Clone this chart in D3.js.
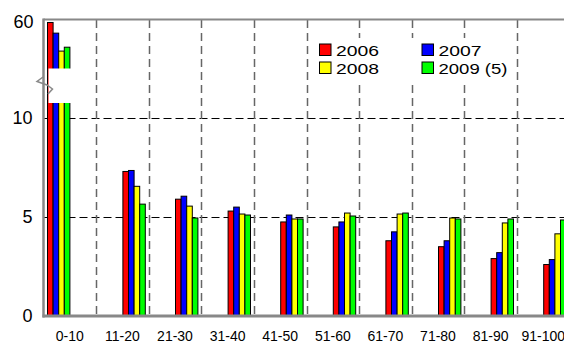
<!DOCTYPE html>
<html>
<head>
<meta charset="utf-8">
<script src="https://cdn.jsdelivr.net/npm/d3@7"></script>
<style>
    body { margin: 0; background: #fff; }
    svg { display: block; font-family: 'Liberation Sans', Arial, sans-serif; }
</style>
</head>
<body>
<svg id="chart"></svg>
<script>
const categories = ['0-10', '11-20', '21-30', '31-40', '41-50', '51-60', '61-70', '71-80', '81-90', '91-100'];
const seriesNames = ['2006', '2007', '2008', '2009 (5)'];
const values2006 = [59.8, 7.3, 5.9, 5.3, 4.75, 4.5, 3.8, 3.5, 2.9, 2.6];
const values2007 = [57.6, 7.35, 6.05, 5.5, 5.1, 4.75, 4.25, 3.8, 3.2, 2.85];
const values2008 = [53.9, 6.55, 5.55, 5.15, 4.9, 5.2, 5.15, 4.95, 4.7, 4.15];
const values2009 = [54.7, 5.65, 4.95, 5.1, 4.9, 5.05, 5.2, 4.9, 4.9, 4.85];
const lowerTicks = [0, 5, 10];
const upperTicks = [60];
const colors = ['#ff0000', '#0000ff', '#ffff00', '#00ff00'];

const allSeries = [values2006, values2007, values2008, values2009];

const width = 564, height = 345;
const plotLeft = 43.5, plotTop = 20, plotBottom = 316;
const bandW = 52.6;
const breakTop = 68.5, breakBottom = 103;
const barW = 5.6;

const svg = d3.select('#chart')
    .attr('width', width)
    .attr('height', height);

const xScale = d3.scaleBand()
    .domain(categories)
    .range([plotLeft, plotLeft + bandW * categories.length])
    .padding(0);

// broken y axis: lower part 0..10, upper part 50..60
const yLower = d3.scaleLinear().domain([0, 10]).range([plotBottom, 118]);
const yUpper = d3.scaleLinear().domain([50, 60]).range([70, 21.5]);
const yPos = v => v > 10.7 ? yUpper(v) : yLower(v);

const seriesScale = d3.scaleBand()
    .domain(d3.range(seriesNames.length))
    .range([0, barW * seriesNames.length]);

// horizontal grid
svg.append('g')
    .selectAll('line')
    .data([5, 10])
    .join('line')
    .attr('x1', plotLeft)
    .attr('x2', width)
    .attr('y1', d => yLower(d) + 0.5)
    .attr('y2', d => yLower(d) + 0.5)
    .attr('stroke', '#000')
    .attr('stroke-width', 1)
    .attr('stroke-dasharray', '8,4');

// vertical grid at category boundaries
svg.append('g')
    .selectAll('line')
    .data(categories.slice(1))
    .join('line')
    .attr('x1', d => Math.round(xScale(d)) + 0.5)
    .attr('x2', d => Math.round(xScale(d)) + 0.5)
    .attr('y1', plotTop)
    .attr('y2', plotBottom)
    .attr('stroke', '#666')
    .attr('stroke-width', 1.5)
    .attr('stroke-dasharray', '8,5');

// bars
const barData = [];
categories.forEach((c, i) => {
    allSeries.forEach((s, j) => barData.push({cat: c, idx: i, s: j, v: s[i]}));
});

const groupX = d => {
    const center = xScale(d.cat) + xScale.bandwidth() / 2;
    const start = d.idx === 0 ? xScale(d.cat) + 3.5 : center;
    return start + seriesScale(d.s);
};

svg.append('g')
    .selectAll('rect')
    .data(barData)
    .join('rect')
    .attr('x', d => groupX(d) + 0.5)
    .attr('y', d => yPos(d.v))
    .attr('width', barW)
    .attr('height', d => plotBottom - yPos(d.v))
    .attr('fill', d => colors[d.s])
    .attr('stroke', '#000')
    .attr('stroke-width', 1);

// break gap across the tall bars
svg.append('rect')
    .attr('x', plotLeft + 5)
    .attr('y', breakTop)
    .attr('width', 23)
    .attr('height', breakBottom - breakTop)
    .attr('fill', '#fff');

// frame: top line, left and bottom axis
svg.append('line')
    .attr('x1', plotLeft).attr('x2', width)
    .attr('y1', plotTop - 0.5).attr('y2', plotTop - 0.5)
    .attr('stroke', '#888').attr('stroke-width', 2);

svg.append('line')
    .attr('x1', plotLeft).attr('x2', plotLeft)
    .attr('y1', plotTop - 1.5).attr('y2', plotBottom + 1.5)
    .attr('stroke', '#888').attr('stroke-width', 2.5);

svg.append('line')
    .attr('x1', plotLeft - 1).attr('x2', width)
    .attr('y1', plotBottom).attr('y2', plotBottom)
    .attr('stroke', '#888').attr('stroke-width', 3);

// break symbol
svg.append('path')
    .attr('d', 'M43,77 L37,81.5 L47,85 L52.5,89 L48,94')
    .attr('fill', 'none')
    .attr('stroke', '#888')
    .attr('stroke-width', 1.5);

// y axes
const yAxisLower = d3.axisLeft(yLower).tickValues(lowerTicks).tickSize(0).tickPadding(11);
const yAxisUpper = d3.axisLeft(yUpper).tickValues(upperTicks).tickSize(0).tickPadding(10);

svg.append('g')
    .attr('transform', `translate(${plotLeft},0)`)
    .call(yAxisLower)
    .call(g => g.select('.domain').remove())
    .selectAll('text')
    .style('font-size', '18px')
    .style('font-family', 'Liberation Sans, Arial, sans-serif')
    .attr('fill', '#000');

svg.append('g')
    .attr('transform', `translate(${plotLeft},0)`)
    .call(yAxisUpper)
    .call(g => g.select('.domain').remove())
    .selectAll('text')
    .style('font-size', '18px')
    .style('font-family', 'Liberation Sans, Arial, sans-serif')
    .attr('fill', '#000');

// x axis labels
const xAxis = d3.axisBottom(xScale).tickSize(0).tickPadding(15);
svg.append('g')
    .attr('transform', `translate(0,${plotBottom})`)
    .call(xAxis)
    .call(g => g.select('.domain').remove())
    .selectAll('text')
    .style('font-size', '14px')
    .style('font-family', 'Liberation Sans, Arial, sans-serif')
    .attr('fill', '#000');

// legend
const legend = svg.append('g');
legend.append('rect')
    .attr('x', 309).attr('y', 38)
    .attr('width', 207).attr('height', 43)
    .attr('fill', '#fff');

const legendItems = legend.selectAll('g.item')
    .data(seriesNames)
    .join('g')
    .attr('class', 'item')
    .attr('transform', (d, i) => `translate(${i % 2 === 0 ? 319.5 : 422}, ${i < 2 ? 44 : 62})`);

legendItems.append('rect')
    .attr('width', 11.5)
    .attr('height', 11.5)
    .attr('fill', (d, i) => colors[i])
    .attr('stroke', '#000')
    .attr('stroke-width', 1);

legendItems.append('text')
    .attr('x', 16.5)
    .attr('y', 12.2)
    .attr('textLength', d => d.length > 4 ? 69 : 43)
    .attr('lengthAdjust', 'spacingAndGlyphs')
    .style('font-size', '15.5px')
    .attr('fill', '#000')
    .text(d => d);
</script>
</body>
</html>
